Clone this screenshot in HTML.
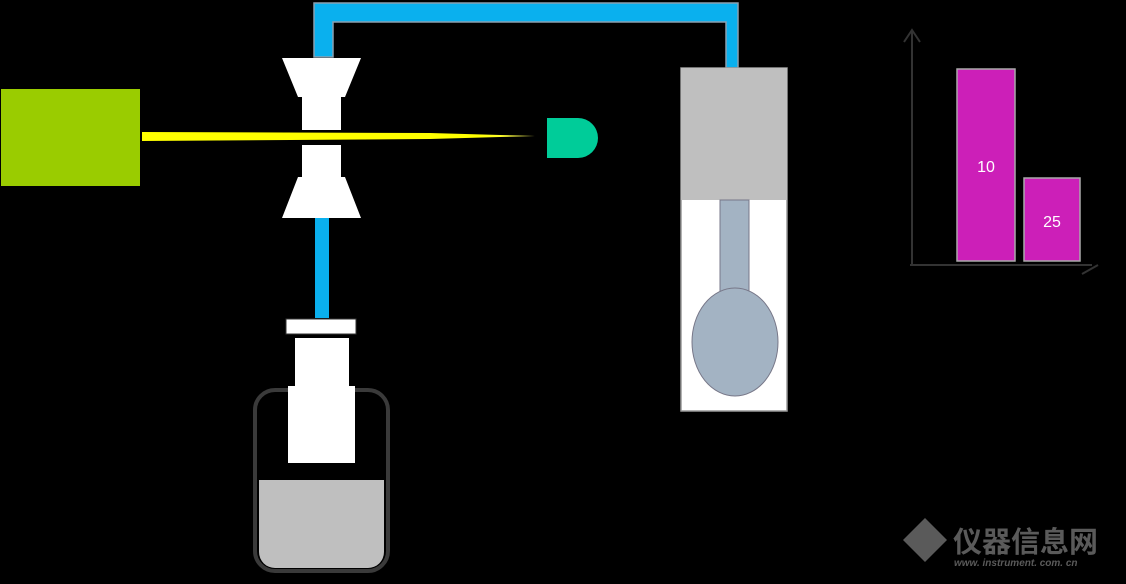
<!DOCTYPE html>
<html><head><meta charset="utf-8"><style>
html,body{margin:0;padding:0;background:#000;width:1126px;height:584px;overflow:hidden}
svg{display:block}
</style></head><body>
<svg width="1126" height="584" viewBox="0 0 1126 584" xmlns="http://www.w3.org/2000/svg">
<defs>
<linearGradient id="beam" x1="0" x2="1" y1="0" y2="0">
<stop offset="0.85" stop-color="#ffff00"/><stop offset="1" stop-color="#ffff66"/>
</linearGradient>
</defs>
<!-- tubes -->
<path d="M314 3 H738 V68 H726 V22 H333 V57 H314 Z" fill="#0ab0ee" stroke="#8aa0b0" stroke-width="1.5"/>
<rect x="315" y="218" width="14" height="100" fill="#0ab0ee"/>
<!-- laser -->
<rect x="1" y="89" width="139" height="97" fill="#9acc00"/>
<!-- valve -->
<polygon points="282,58 361,58 345,97 341,97 341,130 302,130 302,97 298,97" fill="#fff"/>
<polygon points="302,145 341,145 341,177 345,177 361,218 282,218 298,177 302,177" fill="#fff"/>
<!-- beam -->
<polygon points="142,132 430,133 535,136 430,139 142,141" fill="url(#beam)"/>
<!-- detector -->
<path d="M547 118 H578 A20 20 0 0 1 578 158 H547 Z" fill="#00cc99"/>
<!-- cuvette -->
<rect x="681" y="68" width="106" height="343" fill="#fff" stroke="#999" stroke-width="1.5"/>
<rect x="681" y="68" width="106" height="132" fill="#bfbfbf"/>
<rect x="720" y="200" width="29" height="95" fill="#a3b3c3" stroke="#778" stroke-width="1"/>
<ellipse cx="735" cy="342" rx="43" ry="54" fill="#a3b3c3" stroke="#778" stroke-width="1"/>
<!-- bottle -->
<rect x="255" y="390" width="133" height="181" rx="20" fill="#000" stroke="#3a3a3a" stroke-width="4"/>
<path d="M259 480 H384 V552 A16 16 0 0 1 368 568 H275 A16 16 0 0 1 259 552 Z" fill="#bfbfbf"/>
<rect x="286" y="319" width="70" height="15" fill="#fff" stroke="#333" stroke-width="1"/>
<rect x="295" y="338" width="54" height="50" fill="#fff"/>
<rect x="288" y="386" width="67" height="77" fill="#fff"/>
<!-- chart -->
<line x1="912" y1="30" x2="912" y2="265" stroke="#333" stroke-width="2"/>
<line x1="910" y1="265" x2="1092" y2="265" stroke="#333" stroke-width="2"/>
<polyline points="904,42 912,30 920,42" fill="none" stroke="#333" stroke-width="2"/>
<polyline points="1082,274 1098,265" fill="none" stroke="#333" stroke-width="2"/>
<rect x="957" y="69" width="58" height="192" fill="#cc1fb8" stroke="#aaa" stroke-width="1.5"/>
<rect x="1024" y="178" width="56" height="83" fill="#cc1fb8" stroke="#aaa" stroke-width="1.5"/>
<text x="986" y="172" fill="#fff" font-family="Liberation Sans, sans-serif" font-size="16" text-anchor="middle">10</text>
<text x="1052" y="227" fill="#fff" font-family="Liberation Sans, sans-serif" font-size="16" text-anchor="middle">25</text>
<!-- watermark -->
<polygon points="925,518 947,540 925,562 903,540" fill="#5a5a5a"/>
<text x="953" y="552" fill="#5a5a5a" font-family="Liberation Sans, 'Noto Sans CJK SC', sans-serif" font-weight="bold" font-size="29">仪器信息网</text>
<text x="954" y="566" fill="#5a5a5a" font-family="Liberation Sans, sans-serif" font-style="italic" font-weight="bold" font-size="10">www. instrument. com. cn</text>
</svg>
</body></html>
